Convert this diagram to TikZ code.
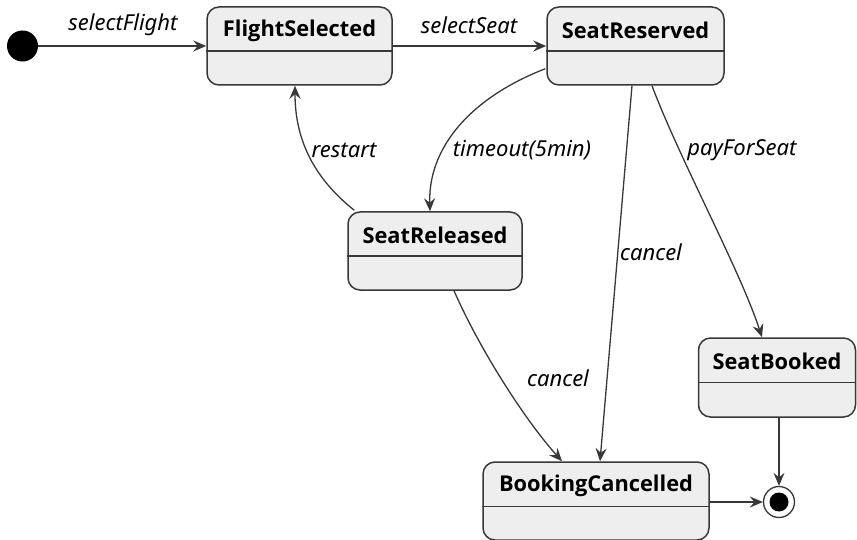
\documentclass[tikz,border=0pt]{standalone}
\usepackage{fontspec}
\setmainfont{Noto Sans}
\newfontfamily\titlefont{Open Sans}
\usetikzlibrary{arrows.meta,calc}
\definecolor{stfill}{HTML}{EEEEEE}
\definecolor{stline}{HTML}{383838}
\tikzset{
  stbox/.style={draw=stline, fill=stfill, line width=1.5pt, rounded corners=12pt, inner sep=0pt},
  sttitle/.style={font=\titlefont\bfseries\fontsize{21.8}{26}\selectfont, text=black, inner sep=0pt},
  elabel/.style={font=\itshape\fontsize{22}{26}\selectfont, text=black, inner sep=0pt},
  arr/.style={draw=stline, line width=1.3pt, -{Stealth[length=13pt,width=11pt,inset=4.5pt]}},
}
\begin{document}
\begin{tikzpicture}[x=1pt,y=-1pt]
\useasboundingbox (0,0) rectangle (857,540);
% states
\node[stbox, minimum width=185pt, minimum height=78pt] (fs) at (299.5,46) {};
\node[stbox, minimum width=177pt, minimum height=78pt] (sr) at (635.5,46) {};
\node[stbox, minimum width=174pt, minimum height=78pt] (srel) at (435,251) {};
\node[stbox, minimum width=226pt, minimum height=78pt] (bc) at (596,501) {};
\node[stbox, minimum width=157pt, minimum height=79pt] (sb) at (777,377.5) {};
% dividers
\foreach \n in {fs,sr,srel,bc,sb} {
  \draw[stline, line width=1.5pt] ($(\n.north west)+(0,45)$) -- ($(\n.north east)+(0,45)$);
}
% titles
\node[sttitle] (tfs) at ($(fs.north)+(0,24.5)$) {FlightSelected};
\node[sttitle] (tsr) at ($(sr.north)+(0,24.5)$) {SeatReserved};
\node[sttitle] (tsrel) at ($(srel.north)+(0,24.5)$) {SeatReleased};
\node[sttitle] (tbc) at ($(bc.north)+(0,24.5)$) {BookingCancelled};
\node[sttitle] (tsb) at ($(sb.north)+(0,24.5)$) {SeatBooked};
% initial and final
\node[circle, fill=black, minimum size=31pt, inner sep=0pt] (init) at (22.5,46) {};
\node[circle, draw=stline, line width=1.3pt, fill=white, minimum size=31pt, inner sep=0pt] (fin) at (779,502) {};
\node[circle, fill=black, minimum size=19pt, inner sep=0pt] (finin) at (fin) {};
% edges
\draw[arr] (init) -- (fs.west |- init);
\node[elabel] (l1) at (123,25) {selectFlight};
\draw[arr] (fs.east |- 0,46) -- (sr.west |- 0,46);
\node[elabel] (l2) at (469,25) {selectSeat};
\coordinate (a1) at ($(sr.south west)+(-1,-17)$);
\draw[arr] (a1) .. controls (470,98) and (428,148) .. (srel.north -| 430,0);
\node[elabel] (l3) at (522,150) {timeout(5min)};
\coordinate (a2) at ($(srel.north west)+(7,-1)$);
\draw[arr] (a2) .. controls (310,175) and (295,135) .. (fs.south -| 295,0);
\node[elabel] (l4) at (344,150) {restart};
\draw[arr] (sr.south -| 632,0) -- (bc.north -| 600,0);
\node[elabel] (l5) at (651,252) {cancel};
\draw[arr] (sr.south -| 652,0) .. controls (680,160) and (740,270) .. (sb.north -| 762,0);
\node[elabel] (l6) at (742,150) {payForSeat};
\draw[arr] (srel.south -| 454,0) .. controls (480,350) and (525,420) .. (bc.north -| 562,0);
\node[elabel] (l7) at (558,378) {cancel};
\draw[arr] (sb.south -| fin) -- (fin.north);
\draw[arr] (bc.east |- fin) -- (fin.west);
\end{tikzpicture}
\end{document}
